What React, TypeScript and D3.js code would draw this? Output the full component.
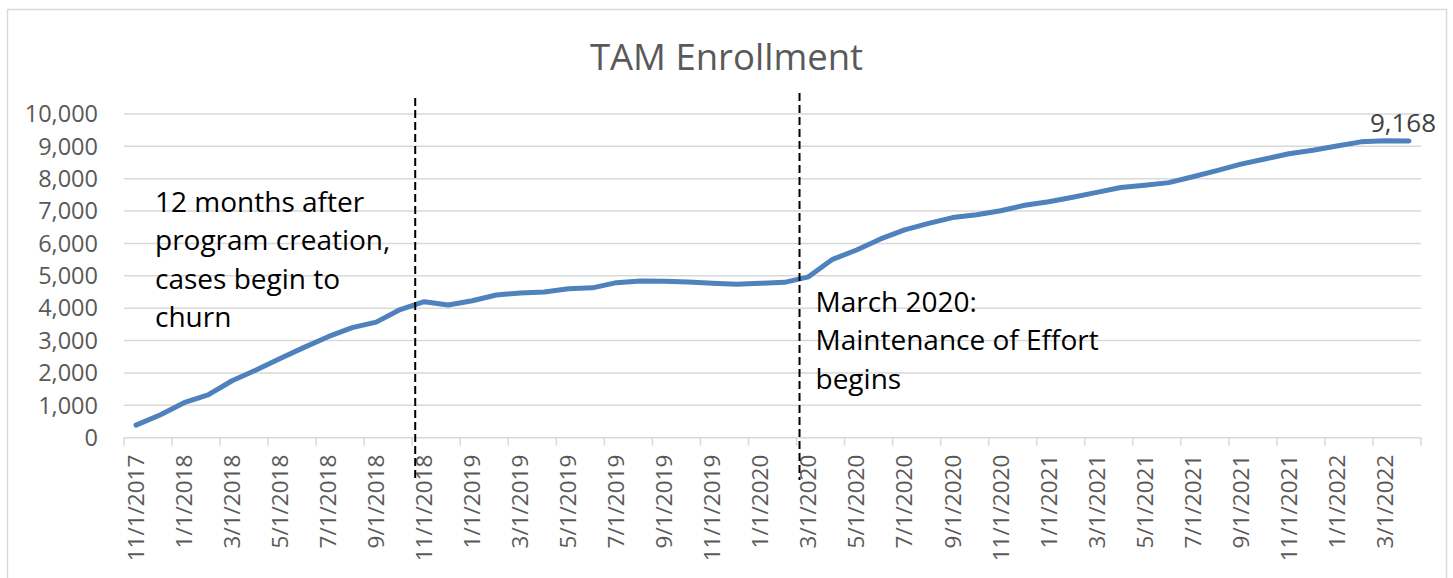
import React, { useEffect, useRef } from 'react';
import * as d3 from 'd3';

/* ──────────  data  ────────── */
const months: string[] = [
  '11/1/2017', '12/1/2017',
  '1/1/2018', '2/1/2018', '3/1/2018', '4/1/2018', '5/1/2018', '6/1/2018',
  '7/1/2018', '8/1/2018', '9/1/2018', '10/1/2018', '11/1/2018', '12/1/2018',
  '1/1/2019', '2/1/2019', '3/1/2019', '4/1/2019', '5/1/2019', '6/1/2019',
  '7/1/2019', '8/1/2019', '9/1/2019', '10/1/2019', '11/1/2019', '12/1/2019',
  '1/1/2020', '2/1/2020', '3/1/2020', '4/1/2020', '5/1/2020', '6/1/2020',
  '7/1/2020', '8/1/2020', '9/1/2020', '10/1/2020', '11/1/2020', '12/1/2020',
  '1/1/2021', '2/1/2021', '3/1/2021', '4/1/2021', '5/1/2021', '6/1/2021',
  '7/1/2021', '8/1/2021', '9/1/2021', '10/1/2021', '11/1/2021', '12/1/2021',
  '1/1/2022', '2/1/2022', '3/1/2022', '4/1/2022'
];

const enrollment: number[] = [
  390, 700, 1080, 1320, 1760, 2090, 2450, 2790, 3120, 3400, 3570, 3960,
  4200, 4100, 4230, 4410, 4470, 4500, 4600, 4630, 4790, 4840, 4830, 4810,
  4770, 4740, 4770, 4800, 4970, 5510, 5800, 6140, 6420, 6620, 6800, 6890,
  7010, 7180, 7290, 7430, 7580, 7730, 7800, 7880, 8060, 8250, 8450, 8610,
  8770, 8880, 9010, 9140, 9170, 9168
];

const yTicks: number[] = [0, 1000, 2000, 3000, 4000, 5000, 6000, 7000, 8000, 9000, 10000];

/* vertical markers + their notes */
const markers = [
  { month: '11/1/2018', top: 98, lines: ['12 months after', 'program creation,', 'cases begin to', 'churn'] },
  { month: '3/1/2020', top: 93, lines: ['March 2020:', 'Maintenance of Effort', 'begins'] }
];

const W = 1453, H = 578;
const M = { l: 124, r: 1421, t: 114, b: 437.7 };
const FONT = '"Open Sans", "Noto Sans", sans-serif';
const GRID = '#d9d9d9';
const TXT = '#595959';

export default function App() {
  const ref = useRef<SVGSVGElement>(null);

  useEffect(() => {
    const svg = d3.select(ref.current);
    svg.selectAll('*').remove();

    const x = d3.scaleBand<string>().domain(months).range([M.l, M.r]).padding(0);
    const y = d3.scaleLinear().domain([0, 10000]).range([M.b, M.t]);
    const cx = (m: string) => (x(m) as number) + x.bandwidth() / 2;
    const fmt = d3.format(',');

    /* chart frame */
    svg.append('rect')
      .attr('x', 7.5).attr('y', 9.5)
      .attr('width', 1439).attr('height', 600)
      .attr('fill', '#fff').attr('stroke', GRID).attr('stroke-width', 1.5);

    /* title */
    svg.append('text')
      .attr('x', W / 2).attr('y', 70)
      .attr('text-anchor', 'middle')
      .attr('font-family', FONT).attr('font-size', 36.5)
      .attr('fill', TXT)
      .text('TAM Enrollment');

    /* gridlines + y labels */
    const gy = svg.append('g');
    yTicks.forEach(t => {
      gy.append('line')
        .attr('x1', M.l).attr('x2', M.r)
        .attr('y1', y(t)).attr('y2', y(t))
        .attr('stroke', GRID).attr('stroke-width', 1.5);
      gy.append('text')
        .attr('x', 98).attr('y', y(t))
        .attr('dy', '0.35em')
        .attr('text-anchor', 'end')
        .attr('font-family', FONT).attr('font-size', 23.5)
        .attr('fill', TXT)
        .text(fmt(t));
    });

    /* x axis ticks (every 2 months, on boundaries) + labels */
    const gx = svg.append('g');
    const boundaries = months.filter((_, i) => i % 2 === 0).map(m => x(m) as number).concat([M.r]);
    boundaries.forEach(bx => {
      gx.append('line')
        .attr('x1', bx).attr('x2', bx)
        .attr('y1', M.b).attr('y2', M.b + 8)
        .attr('stroke', GRID).attr('stroke-width', 1.5);
    });
    months.forEach((m, i) => {
      if (i % 2) return;
      gx.append('text')
        .attr('transform', `translate(${cx(m)},${M.b + 17}) rotate(-90)`)
        .attr('dy', '0.35em')
        .attr('text-anchor', 'end')
        .attr('font-family', FONT).attr('font-size', 22.5)
        .attr('fill', TXT)
        .text(m);
    });

    /* enrollment line */
    const line = d3.line<number>()
      .x((_, i) => cx(months[i]))
      .y(d => y(d));
    svg.append('path')
      .datum(enrollment)
      .attr('fill', 'none')
      .attr('stroke', '#4f81bd')
      .attr('stroke-width', 5)
      .attr('stroke-linejoin', 'round')
      .attr('stroke-linecap', 'round')
      .attr('d', line);

    /* last value label */
    const last = months.length - 1;
    svg.append('text')
      .attr('x', cx(months[last]) - 6).attr('y', y(enrollment[last]) - 9)
      .attr('text-anchor', 'middle')
      .attr('font-family', FONT).attr('font-size', 26)
      .attr('fill', '#404040')
      .text(fmt(enrollment[last]));

    /* dashed markers + annotations */
    markers.forEach((mk, k) => {
      const mx = (x(mk.month) as number) + 3;
      svg.append('line')
        .attr('x1', mx).attr('x2', mx)
        .attr('y1', mk.top).attr('y2', 480)
        .attr('stroke', '#000').attr('stroke-width', 2)
        .attr('stroke-dasharray', '8,4');

      const tx = k === 0 ? M.l + 31 : mx + 16;
      const ty = k === 0 ? 212 : 312;
      const t = svg.append('text')
        .attr('font-family', FONT).attr('font-size', 28)
        .attr('fill', '#000');
      mk.lines.forEach((s, j) => {
        t.append('tspan').attr('x', tx).attr('y', ty + j * 38.3).text(s);
      });
    });
  }, []);

  return (
    <div style={{ position: 'absolute', left: 0, top: 0 }}>
      <svg ref={ref} width={W} height={H} style={{ display: 'block', background: '#fff' }} />
    </div>
  );
}
